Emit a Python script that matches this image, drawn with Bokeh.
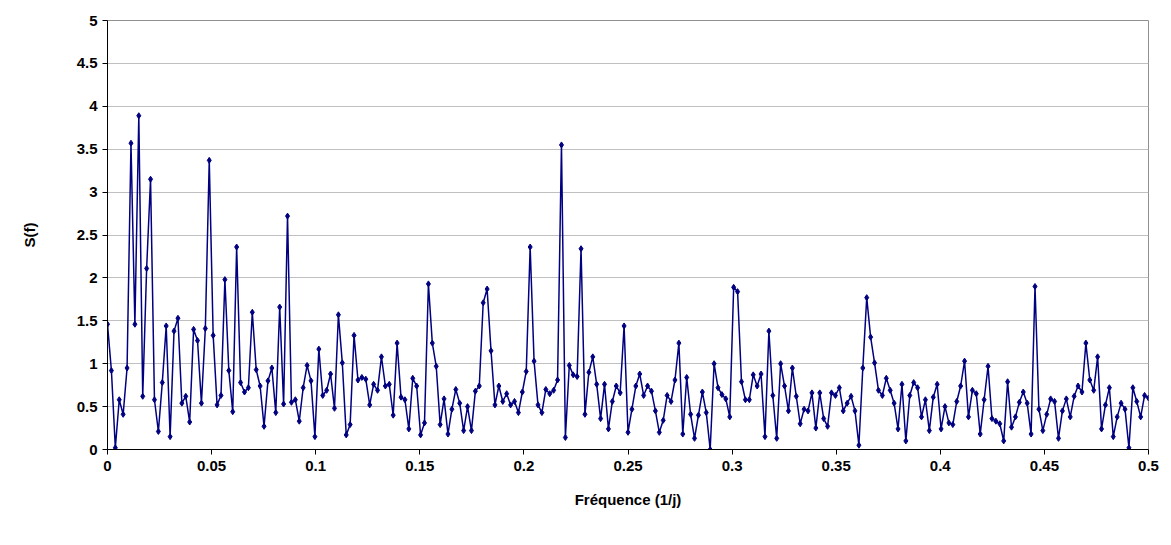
from bokeh.plotting import figure
from bokeh.models import Range1d, FixedTicker
from bokeh.embed import file_html
from bokeh.resources import INLINE

# Spectral density S(f) (uniform frequency grid 0 .. 0.5)
s_values = [
    1.46, 0.92, 0.02, 0.58, 0.41, 0.95, 3.57, 1.46, 3.89, 0.62, 2.11, 3.15, 0.58, 0.21, 0.78, 1.44, 0.15, 1.38, 1.53, 0.54, 0.62, 0.32,
    1.40, 1.27, 0.54, 1.41, 3.37, 1.33, 0.52, 0.63, 1.98, 0.92, 0.44, 2.36, 0.78, 0.67, 0.72, 1.60, 0.93, 0.74, 0.27, 0.80, 0.95, 0.43,
    1.66, 0.53, 2.72, 0.55, 0.58, 0.33, 0.72, 0.98, 0.80, 0.15, 1.17, 0.63, 0.69, 0.88, 0.48, 1.57, 1.01, 0.17, 0.29, 1.33, 0.81, 0.84,
    0.82, 0.52, 0.76, 0.69, 1.08, 0.74, 0.76, 0.40, 1.24, 0.61, 0.58, 0.24, 0.83, 0.74, 0.17, 0.31, 1.93, 1.24, 0.97, 0.29, 0.59, 0.18, 0.47,
    0.70, 0.54, 0.22, 0.50, 0.22, 0.68, 0.74, 1.71, 1.87, 1.15, 0.52, 0.74, 0.56, 0.65, 0.52, 0.56, 0.43, 0.67, 0.91, 2.36, 1.03, 0.52,
    0.43, 0.70, 0.65, 0.69, 0.81, 3.55, 0.14, 0.98, 0.87, 0.85, 2.34, 0.41, 0.90, 1.08, 0.76, 0.36, 0.76, 0.24, 0.56, 0.74, 0.66, 1.44, 0.20, 0.47,
    0.74, 0.88, 0.63, 0.74, 0.68, 0.45, 0.20, 0.34, 0.63, 0.56, 0.81, 1.24, 0.18, 0.84, 0.41, 0.13, 0.40, 0.67, 0.43, 0.00, 1.00,
    0.72, 0.64, 0.59, 0.38, 1.89, 1.84, 0.79, 0.58, 0.58, 0.87, 0.74, 0.88, 0.15, 1.38, 0.63, 0.13, 1.00, 0.74, 0.45, 0.95, 0.62, 0.30, 0.47,
    0.45, 0.66, 0.25, 0.66, 0.36, 0.27, 0.66, 0.63, 0.72, 0.45, 0.54, 0.62, 0.45, 0.05, 0.95, 1.77, 1.31, 1.01, 0.69, 0.63, 0.83, 0.69,
    0.54, 0.24, 0.76, 0.10, 0.63, 0.78, 0.72, 0.38, 0.58, 0.22, 0.61, 0.76, 0.24, 0.50, 0.31, 0.29, 0.56, 0.74, 1.03, 0.38, 0.69, 0.65,
    0.18, 0.58, 0.97, 0.36, 0.33, 0.30, 0.10, 0.79, 0.26, 0.38, 0.55, 0.67, 0.54, 0.18, 1.90, 0.47, 0.22, 0.41, 0.59, 0.56, 0.13, 0.45, 0.59,
    0.38, 0.62, 0.74, 0.67, 1.24, 0.81, 0.69, 1.08, 0.24, 0.52, 0.72, 0.15, 0.38, 0.54, 0.47, 0.02, 0.72, 0.56, 0.38, 0.63, 0.60,
]
n_points = len(s_values)
frequencies = [k * 0.5 / (n_points - 1) for k in range(n_points)]

x_ticks = [0, 0.05, 0.1, 0.15, 0.2, 0.25, 0.3, 0.35, 0.4, 0.45, 0.5]
x_tick_labels = ["0", "0.05", "0.1", "0.15", "0.2", "0.25", "0.3", "0.35", "0.4", "0.45", "0.5"]
y_ticks = [0, 0.5, 1, 1.5, 2, 2.5, 3, 3.5, 4, 4.5, 5]
y_tick_labels = ["0", "0.5", "1", "1.5", "2", "2.5", "3", "3.5", "4", "4.5", "5"]

x_title = "Fréquence (1/j)"
y_title = "S(f)"

FONT = "Liberation Sans"
NAVY = "#000080"

p = figure(
    frame_width=1041, frame_height=429,
    min_border_left=107, min_border_top=20, min_border_right=15, min_border_bottom=85,
    x_range=Range1d(0, 0.5), y_range=Range1d(0, 5),
    output_backend="svg", toolbar_location=None,
)
p.background_fill_color = "white"
p.border_fill_color = "white"
p.outline_line_color = "#909090"
p.outline_line_width = 1

xt = FixedTicker(ticks=x_ticks)
yt = FixedTicker(ticks=y_ticks)
p.xaxis.ticker = xt
p.yaxis.ticker = yt
p.xaxis.major_label_overrides = {t: l for t, l in zip(x_ticks, x_tick_labels)}
p.yaxis.major_label_overrides = {t: l for t, l in zip(y_ticks, y_tick_labels)}

p.xgrid.visible = False
p.ygrid.ticker = yt
p.ygrid.grid_line_color = "#c0c0c0"
p.ygrid.grid_line_width = 1

for ax in (p.xaxis, p.yaxis):
    ax.axis_line_color = "black"
    ax.axis_line_width = 1
    ax.major_tick_line_color = "black"
    ax.major_tick_in = 0
    ax.major_tick_out = 5
    ax.minor_tick_line_color = None
    ax.major_label_text_font = FONT
    ax.major_label_text_font_style = "bold"
    ax.major_label_text_font_size = "15px"
    ax.major_label_text_color = "black"
    ax.axis_label_text_font = FONT
    ax.axis_label_text_font_style = "bold"
    ax.axis_label_text_font_size = "15px"
    ax.axis_label_text_color = "black"

p.xaxis.axis_label = x_title
p.yaxis.axis_label = y_title
p.xaxis.major_label_standoff = 6
p.yaxis.major_label_standoff = 5
p.xaxis.axis_label_standoff = 17
p.yaxis.axis_label_standoff = 36

p.line(frequencies, s_values, line_color=NAVY, line_width=1.5)
p.scatter(frequencies, s_values, marker="diamond", size=6,
          fill_color=NAVY, line_color=NAVY)

open("out.html", "w").write(file_html(p, INLINE))
